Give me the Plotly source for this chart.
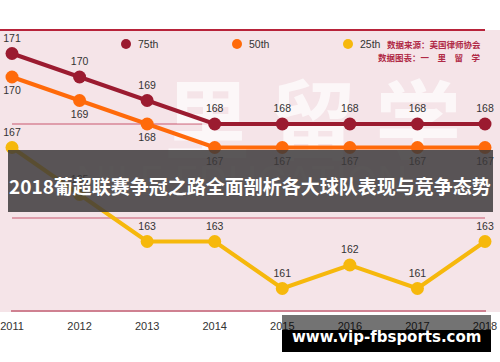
import plotly.graph_objects as go

years = [2011, 2012, 2013, 2014, 2015, 2016, 2017, 2018]
p75 = [171, 170, 169, 168, 168, 168, 168, 168]
p50 = [170, 169, 168, 167, 167, 167, 167, 167]
p25 = [167, 165, 163, 163, 161, 162, 161, 163]
series_names = ["75th", "50th", "25th"]
series_colors = ["#9b1b30", "#ff6a0a", "#f6b80c"]
title_text = "2018葡超联赛争冠之路全面剖析各大球队表现与竞争态势"
source_lines = ["数据来源：美国律师协会", "数据图表：一　里　留　学"]
url_text = "www.vip-fbsports.com"

W, H = 500, 362
ML, MR, MT, MB = 0, 0, 30, 50
PW, PH = W - ML - MR, H - MT - MB


def fx(X):
    return (X - ML) / PW


def fy(Y):
    return (H - MB - Y) / PH


fig = go.Figure()

# watermark (behind the lines)
fig.add_trace(go.Scatter(x=[2015.45], y=[167.7], mode="text", text=["里 留 学"],
                         textfont=dict(size=86, color="rgba(255,255,255,0.7)",
                                       family="Noto Sans CJK SC", weight="bold"),
                         hoverinfo="skip", showlegend=False, cliponaxis=False))
fig.add_trace(go.Scatter(x=[2014.4], y=[165.4], mode="text", text=["NILE EDUCATION"],
                         textfont=dict(size=40, color="rgba(255,255,255,0.5)",
                                       family="Inter"),
                         hoverinfo="skip", showlegend=False, cliponaxis=False))

data = [p25, p50, p75]
names = [series_names[2], series_names[1], series_names[0]]
cols = [series_colors[2], series_colors[1], series_colors[0]]
pos = ["top center", "bottom center", "top center"]
for vals, nm, c, tp in zip(data, names, cols, pos):
    fig.add_trace(go.Scatter(
        x=years, y=vals, name=nm, mode="lines+markers+text",
        line=dict(color=c, width=4),
        marker=dict(size=13, color=c),
        text=[str(v) for v in vals], textposition=tp,
        textfont=dict(size=10.5, color="#333333", family="Liberation Sans"),
        cliponaxis=False, showlegend=False))

shapes = []
annotations = []

# top dark red rule and gridlines
shapes.append(dict(type="line", xref="paper", yref="paper", x0=fx(0), x1=fx(485),
                   y0=fy(30), y1=fy(30), line=dict(color="#b8233a", width=2)))
for v in [168, 164]:
    shapes.append(dict(type="line", xref="paper", yref="y", x0=fx(12), x1=fx(485),
                       y0=v, y1=v, line=dict(color="#c9566e", width=1), layer="below"))
shapes.append(dict(type="line", xref="paper", yref="paper", x0=fx(11), x1=fx(486),
                   y0=fy(311), y1=fy(311), line=dict(color="#cf8191", width=2)))

# legend
leg_x = [126, 237, 348]
for nm, c, lx in zip(series_names, series_colors, leg_x):
    r = 5
    shapes.append(dict(type="circle", xref="paper", yref="paper",
                       x0=fx(lx - r), x1=fx(lx + r), y0=fy(44 + r), y1=fy(44 - r),
                       fillcolor=c, line=dict(width=0)))
    annotations.append(dict(text=nm, xref="paper", yref="paper", x=fx(lx + 10), y=fy(44),
                            xanchor="left", yanchor="middle", showarrow=False,
                            font=dict(size=10.5, color="#333333", family="Liberation Sans")))

for i, s in enumerate(source_lines):
    annotations.append(dict(text="<b>" + s + "</b>", xref="paper", yref="paper", x=fx(483),
                            y=fy(44 + 13 * i), xanchor="right", yanchor="middle",
                            showarrow=False,
                            font=dict(size=8.5, color="#b02a46", family="Noto Sans CJK SC")))

# title banner
shapes.append(dict(type="rect", xref="paper", yref="paper", x0=fx(8), x1=fx(493),
                   y0=fy(212), y1=fy(150), fillcolor="rgba(58,56,57,0.84)",
                   line=dict(width=0), layer="above"))
annotations.append(dict(text="<b>" + title_text + "</b>", xref="paper", yref="paper",
                        x=fx(250), y=fy(185), xanchor="center", yanchor="middle",
                        showarrow=False,
                        font=dict(size=19, color="white", family="Noto Sans CJK SC")))

# url banner
shapes.append(dict(type="rect", xref="paper", yref="paper", x0=fx(282), x1=fx(491),
                   y0=fy(352), y1=fy(315), fillcolor="rgba(0,0,0,0.55)",
                   line=dict(width=0), layer="above"))
shapes.append(dict(type="rect", xref="paper", yref="paper", x0=fx(282), x1=fx(491),
                   y0=fy(352), y1=fy(330), fillcolor="black",
                   line=dict(width=0), layer="above"))
annotations.append(dict(text="<b>" + url_text + "</b>", xref="paper", yref="paper",
                        x=fx(386), y=fy(337), xanchor="center", yanchor="middle",
                        showarrow=False,
                        font=dict(size=15, color="white", family="DejaVu Sans")))

px_per_year = (485 - 12) / 7
fig.update_layout(
    width=W, height=H,
    margin=dict(l=ML, r=MR, t=MT, b=MB),
    paper_bgcolor="white", plot_bgcolor="#f5e4e8",
    xaxis=dict(range=[2011 - 12 / px_per_year, 2018 + 15 / px_per_year],
               tickvals=years, ticktext=[str(y) for y in years],
               showgrid=False, zeroline=False, showline=False,
               tickfont=dict(size=11, color="#333333", family="Liberation Sans"),
               ticks="", ticklabelstandoff=6, fixedrange=True),
    yaxis=dict(range=[160, 172], showgrid=False, zeroline=False, showticklabels=False,
               fixedrange=True),
    shapes=shapes, annotations=annotations, showlegend=False,
)

fig.write_html("out.html", config={"displayModeBar": False},
               post_script="document.body.style.margin='0';document.body.style.overflow='hidden';")
